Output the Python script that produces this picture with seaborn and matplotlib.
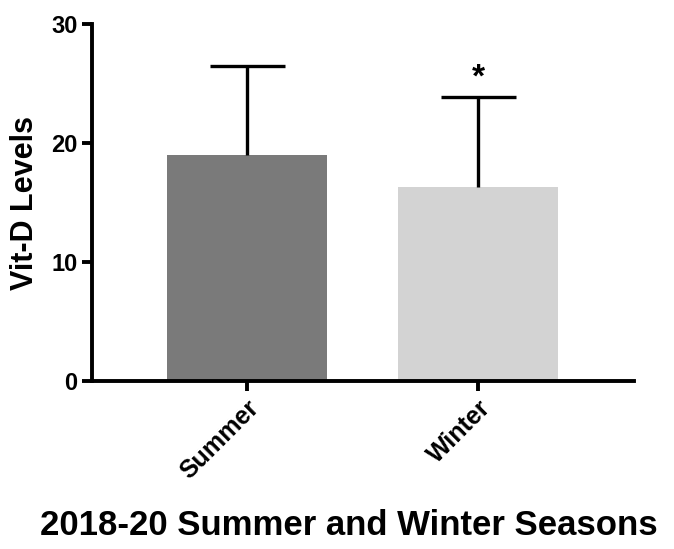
import matplotlib
matplotlib.use("Agg")
import matplotlib.pyplot as plt
import seaborn as sns
import pandas as pd
import numpy as np

seasons = ["Summer", "Winter"]
means = [19.0, 16.35]
sds = [7.5, 7.5]
colors = ["#7a7a7a", "#d3d3d3"]
yticks = [0, 10, 20, 30]

sns.set_style("ticks")
plt.rcParams['font.family'] = ['Liberation Sans', 'DejaVu Sans']
plt.rcParams['font.weight'] = 'bold'
plt.rcParams['text.color'] = 'black'
plt.rcParams['axes.labelcolor'] = 'black'
plt.rcParams['xtick.color'] = 'black'
plt.rcParams['ytick.color'] = 'black'
plt.rcParams['axes.edgecolor'] = 'black'

df = pd.DataFrame({"season": seasons, "value": means})

fig = plt.figure(figsize=(6.74, 5.49), dpi=100)
ax = fig.add_axes([0.1365, 0.306, 0.8042, 0.650])

sns.barplot(data=df, x="season", y="value", hue="season", palette=colors,
            width=0.69, errorbar=None, legend=False, ax=ax, linewidth=0)

eb = ax.errorbar(range(len(seasons)), means, yerr=[[0] * len(sds), sds], fmt="none",
                 ecolor="black", elinewidth=2.4, capsize=27, capthick=2.4, zorder=3)
for cl in eb[1]:
    if np.allclose(np.asarray(cl.get_ydata(), dtype=float), means):
        cl.set_visible(False)

ax.text(1, means[1] + sds[1] + 0.3, "*", ha="center", va="bottom",
        fontsize=24, fontweight="bold")

ax.set_xlim(-0.67, 1.675)
ax.set_ylim(0, 30)
ax.set_yticks(yticks)
ax.set_ylabel("Vit-D Levels", fontsize=22, fontweight="bold", labelpad=8)
ax.set_xlabel("2018-20 Summer and Winter Seasons", fontsize=25, fontweight="bold")
ax.xaxis.set_label_coords(0.474, -0.36)

for s in ["top", "right"]:
    ax.spines[s].set_visible(False)
for s in ["left", "bottom"]:
    ax.spines[s].set_linewidth(2.8)
ax.tick_params(axis="both", width=2.8, length=7, labelsize=17)
ax.tick_params(axis="x", labelsize=18)
plt.setp(ax.get_xticklabels(), rotation=45, ha="right", rotation_mode="anchor", fontweight="bold")
plt.setp(ax.get_yticklabels(), fontweight="bold")

fig.savefig("out.png", dpi=100)
